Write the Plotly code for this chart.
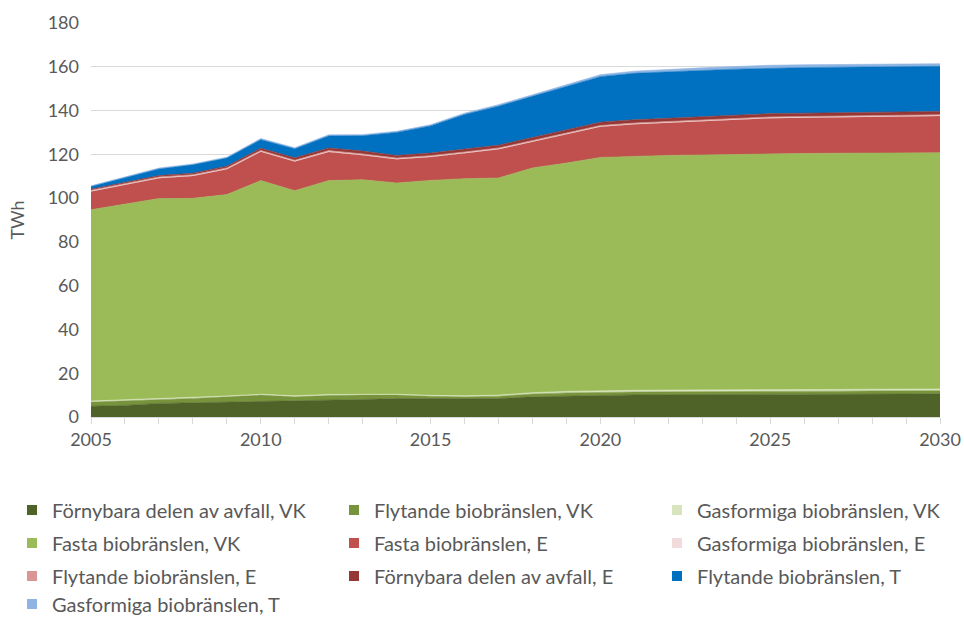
import plotly.graph_objects as go

years = list(range(2005, 2031))

fornybara_vk = [4.9, 5.3, 6.2, 6.5, 6.5, 6.8, 7.1, 7.5, 8.0, 8.4, 8.4, 8.3, 8.4, 9.2, 9.5, 10.0,
                10.1, 10.2, 10.2, 10.3, 10.3, 10.4, 10.4, 10.5, 10.5, 10.6]
flytande_vk = [1.9, 2.0, 1.8, 2.0, 2.7, 3.2, 2.1, 2.3, 2.0, 1.6, 1.1, 0.9, 1.1, 1.3, 1.5, 1.3,
               1.3, 1.3, 1.3, 1.3, 1.3, 1.4, 1.4, 1.4, 1.4, 1.4]
gas_vk = [0.5, 0.5, 0.5, 0.5, 0.4, 0.4, 0.5, 0.5, 0.5, 0.4, 0.4, 0.5, 0.5, 0.6, 0.7, 0.8,
          0.8, 0.8, 0.8, 0.8, 0.8, 0.8, 0.8, 0.8, 0.8, 0.8]
fasta_vk = [87.4, 89.5, 91.3, 90.9, 92.0, 97.6, 93.7, 97.7, 97.9, 96.5, 98.2, 99.2, 99.2, 102.7, 104.3, 106.5,
            106.9, 107.2, 107.4, 107.6, 107.9, 107.8, 107.9, 107.9, 107.9, 107.9]
fasta_e = [8.3, 8.7, 9.3, 10.2, 11.6, 13.2, 13.3, 13.1, 11.2, 10.8, 10.7, 11.6, 13.1, 11.9, 13.2, 14.0,
           14.6, 14.9, 15.4, 15.8, 16.2, 16.3, 16.4, 16.6, 16.8, 16.8]
gas_e = [0.2] * 26
flytande_e = [0.4] * 26
fornybara_e = [0.5, 0.5, 0.6, 0.7, 0.8, 1.0, 1.1, 1.2, 1.3, 1.2, 1.2, 1.3, 1.3, 1.4, 1.5, 1.5,
               1.5, 1.5, 1.5, 1.5, 1.5, 1.5, 1.5, 1.5, 1.5, 1.5]
flytande_t = [1.2, 2.2, 3.0, 3.8, 3.7, 3.9, 4.1, 5.5, 7.0, 10.5, 12.4, 15.8, 17.8, 18.8, 19.7, 20.8,
              21.2, 21.3, 21.1, 21.0, 20.8, 20.8, 20.8, 20.7, 20.6, 20.6]
gas_t = [0.3, 0.3, 0.4, 0.4, 0.4, 0.5, 0.5, 0.5, 0.5, 0.5, 0.5, 0.6, 0.7, 0.7, 0.8, 0.9,
         1.0, 1.1, 1.2, 1.2, 1.3, 1.3, 1.3, 1.3, 1.2, 1.2]

series_names = [
    "Förnybara delen av avfall, VK", "Flytande biobränslen, VK", "Gasformiga biobränslen, VK",
    "Fasta biobränslen, VK", "Fasta biobränslen, E", "Gasformiga biobränslen, E",
    "Flytande biobränslen, E", "Förnybara delen av avfall, E", "Flytande biobränslen, T",
    "Gasformiga biobränslen, T",
]
series_values = [fornybara_vk, flytande_vk, gas_vk, fasta_vk, fasta_e, gas_e,
                 flytande_e, fornybara_e, flytande_t, gas_t]
colors = ["#4F6228", "#77933C", "#D7E4BD", "#9BBB59", "#C0504D", "#F2DCDB",
          "#D99694", "#953735", "#0070C0", "#8DB4E2"]

FONT = "Lato, 'Liberation Sans', Arial, sans-serif"
TXT = "#595959"

W, H = 964, 617
# plot area in page pixels: x 91..940, y 23..417
ML, MR, MT, MB = 91, 964 - 940, 23, 617 - 417
PW, PH = W - ML - MR, H - MT - MB
col_text_x = [52, 374, 697]            # legend text start
row_center_y = [510, 543, 576, 604]    # legend row centers
TEXT_OFFSET = 40

fig = go.Figure()
for name, vals, col in zip(series_names, series_values, colors):
    fig.add_trace(go.Scatter(
        x=years, y=vals, name=name, stackgroup="one", mode="lines",
        line=dict(width=0.6, color=col), fillcolor=col, showlegend=False,
    ))

legends = {}
for i, (name, col) in enumerate(zip(series_names, colors)):
    lid = "legend" if i == 0 else f"legend{i + 1}"
    r, c = divmod(i, 3)
    fig.add_trace(go.Scatter(
        x=[None], y=[None], name=name, mode="markers",
        marker=dict(symbol="square", size=10, color=col),
        legend=lid, showlegend=True, hoverinfo="skip",
    ))
    legends[lid] = dict(
        orientation="v", xanchor="left", yanchor="middle",
        x=(col_text_x[c] - TEXT_OFFSET - ML) / PW,
        y=(H - MB - row_center_y[r]) / PH,
        font=dict(family=FONT, size=20, color=TXT),
        bgcolor="rgba(0,0,0,0)", borderwidth=0,
    )

fig.update_layout(
    width=W, height=H,
    margin=dict(l=ML, r=MR, t=MT, b=MB, autoexpand=False),
    paper_bgcolor="white", plot_bgcolor="white",
    font=dict(family=FONT, size=18, color=TXT),
    xaxis=dict(
        range=[2005, 2030], dtick=5, tick0=2005,
        showgrid=False, zeroline=False,
        showline=True, linecolor="#D9D9D9", linewidth=1.3,
        ticks="outside", ticklen=6, tickcolor="#D9D9D9",
        minor=dict(dtick=1, ticks="outside", ticklen=6, tickcolor="#D9D9D9"),
        tickfont=dict(family=FONT, size=18, color=TXT),
    ),
    yaxis=dict(
        range=[0, 180], dtick=20,
        showgrid=True, gridcolor="#D9D9D9", gridwidth=1.3,
        zeroline=False, showline=False,
        ticklabelstandoff=11,
        title=dict(text="TWh", font=dict(family=FONT, size=18, color=TXT), standoff=18),
        tickfont=dict(family=FONT, size=18, color=TXT),
    ),
    hovermode="x unified",
    **legends,
)

fig.write_html(
    "out.html",
    config={"displayModeBar": False},
    post_script="document.body.style.margin='0';document.body.style.overflow='hidden';",
)
